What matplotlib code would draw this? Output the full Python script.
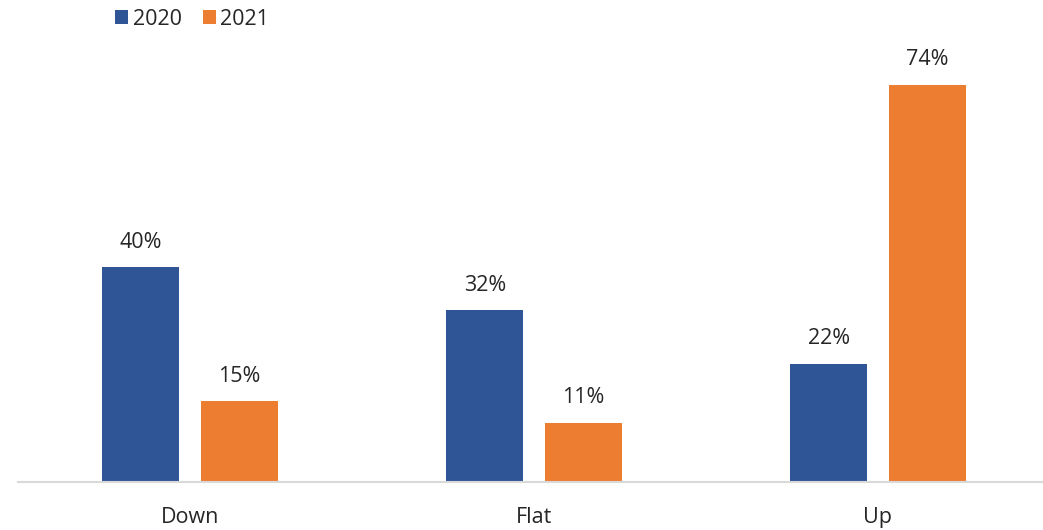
import matplotlib.pyplot as plt
import numpy as np

categories = ['Down', 'Flat', 'Up']
values_2020 = [40, 32, 22]
values_2021 = [15, 11, 74]

plt.rcParams['font.family'] = ['Open Sans', 'DejaVu Sans']

fig = plt.figure(figsize=(10.43, 5.30), dpi=100)
ax = fig.add_axes([18 / 1043, 48 / 530, 1025 / 1043, 482 / 530])

x = np.arange(len(categories))
w = 0.224
b1 = ax.bar(x - 0.143, values_2020, w, color='#2F5597', label='2020')
b2 = ax.bar(x + 0.143, values_2021, w, color='#ED7D31', label='2021')

for bars in (b1, b2):
    for rect in bars:
        h = rect.get_height()
        ax.text(rect.get_x() + rect.get_width() / 2, h + 2.7, f'{h:.0f}%',
                ha='center', va='bottom', fontsize=15.5, color='#262626')

ax.set_xlim(-0.5, -0.5 + 1025 / 344)
ax.set_ylim(0, 89.8)
ax.set_xticks(x)
ax.set_xticklabels(categories, fontsize=15.5, color='#262626')
ax.tick_params(axis='x', length=0, pad=18)
ax.set_yticks([])
for s in ['top', 'right', 'left']:
    ax.spines[s].set_visible(False)
ax.spines['bottom'].set_color('#D9D9D9')
ax.spines['bottom'].set_linewidth(1.5)

fig.legend(loc='upper left', bbox_to_anchor=(96 / 1043, 1.02), ncol=2, frameon=False,
           fontsize=15.5, handlelength=0.6, handleheight=0.6, handletextpad=0.2,
           columnspacing=1.0, labelcolor='#262626')

fig.savefig('out.png', dpi=100)
